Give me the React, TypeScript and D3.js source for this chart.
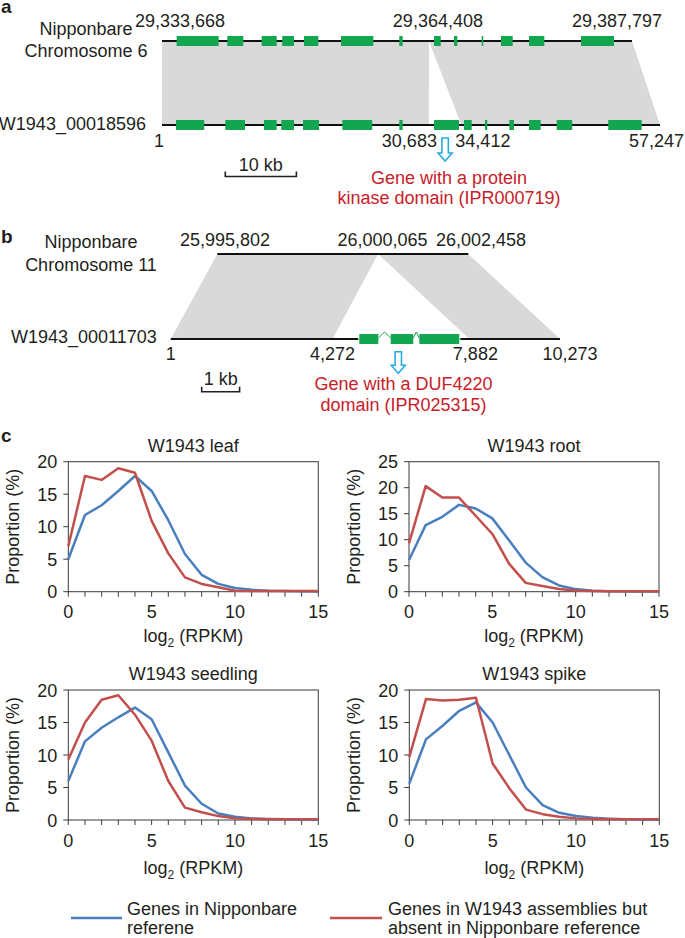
import React from "react";
import * as d3 from "d3";

// ---------- Panel a data ----------
const chr6Start = 29333668;
const chr6Break = 29364408;
const chr6End = 29387797;
const w18596Start = 1;
const w18596GapStart = 30683;
const w18596GapEnd = 34412;
const w18596End = 57247;
// exon positions, kb offset from track start
const chr6ExonsKb: [number, number][] = [
  [1.69, 6.53], [7.52, 9.36], [11.48, 13.21], [13.85, 15.2], [16.35, 18.0],
  [20.62, 24.34], [27.33, 27.72], [31.33, 32.1], [33.63, 34.01], [36.82, 37.0],
  [39.04, 40.39], [42.27, 44.03], [48.26, 52.06],
];
const w18596ExonsKb: [number, number][] = [
  [1.61, 4.86], [7.28, 9.54], [11.72, 13.18], [13.71, 15.17], [16.21, 18.05],
  [20.73, 24.17], [27.28, 27.67], [31.27, 34.14], [34.71, 35.6], [37.13, 37.39],
  [39.92, 40.46], [42.19, 43.53], [45.37, 47.16], [51.3, 55.14],
];
const aTopLabels = ["29,333,668", "29,364,408", "29,387,797"];
const aBotLabels = ["1", "30,683", "34,412", "57,247"];

// ---------- Panel b data ----------
const chr11Start = 25995802;
const chr11Break = 26000065;
const chr11End = 26002458;
const w11703Start = 1;
const w11703GapStart = 4272;
const w11703GapEnd = 7882;
const w11703End = 10273;
const w11703Exons: [number, number][] = [[4977, 5479], [5806, 6402], [6561, 7616]];
const bTopLabels = ["25,995,802", "26,000,065", "26,002,458"];
const bBotLabels = ["1", "4,272", "7,882", "10,273"];

// ---------- Panel c data ----------
const log2Bins = [0, 1, 2, 3, 4, 5, 6, 7, 8, 9, 10, 11, 12, 13, 14, 15];
const leafNip = [5.0, 11.8, 13.3, 15.5, 17.8, 15.5, 11.0, 5.8, 2.6, 1.2, 0.56, 0.3, 0.15, 0.1, 0.05, 0.03];
const leafW = [7.0, 17.8, 17.2, 19.0, 18.3, 10.9, 5.9, 2.2, 1.2, 0.7, 0.15, 0.1, 0.1, 0.1, 0.1, 0.1];
const rootNip = [6.1, 12.8, 14.4, 16.7, 16.0, 14.1, 9.9, 5.6, 2.8, 1.2, 0.5, 0.2, 0.1, 0.05, 0.03, 0.02];
const rootW = [9.3, 20.3, 18.1, 18.1, 14.6, 11.1, 5.4, 1.7, 1.1, 0.5, 0.25, 0.15, 0.1, 0.1, 0.1, 0.1];
const seedNip = [6.0, 12.1, 14.2, 15.8, 17.3, 15.5, 10.4, 5.3, 2.5, 1.0, 0.5, 0.25, 0.15, 0.1, 0.05, 0.03];
const seedW = [9.3, 15.0, 18.5, 19.2, 16.2, 12.2, 6.0, 1.9, 1.2, 0.6, 0.25, 0.15, 0.1, 0.1, 0.1, 0.1];
const spikeNip = [5.6, 12.4, 14.5, 16.8, 18.1, 15.0, 10.0, 5.0, 2.3, 1.1, 0.6, 0.35, 0.2, 0.1, 0.05, 0.03];
const spikeW = [9.7, 18.6, 18.4, 18.5, 18.8, 8.7, 4.9, 1.6, 0.9, 0.5, 0.25, 0.15, 0.1, 0.1, 0.1, 0.1];
const xTickLabels = [0, 5, 10, 15];
const yTicks20 = [0, 5, 10, 15, 20];
const yTicks25 = [0, 5, 10, 15, 20, 25];
const legendNip = ["Genes in Nipponbare", "referene"];
const legendW = ["Genes in W1943 assemblies but", "absent in Nipponbare reference"];

// ---------- styles ----------
const FONT = "'Liberation Sans', Arial, Helvetica, sans-serif";
const TXT = "#231f20";
const GREEN = "#13a650";
const GRAY = "#d9d9d9";
const ARROW = "#29abe2";
const REDTXT = "#c8202a";
const BLUE = "#4a7fbf";
const RED = "#c24f4b";
const AX = "#3a3a3a";

const Arrow = ({ cx, y0, y1 }: { cx: number; y0: number; y1: number }) => {
  const sw = 3.2, hw = 7, hh = 8;
  const d = `M${cx - sw},${y0} L${cx + sw},${y0} L${cx + sw},${y1 - hh} L${cx + hw},${y1 - hh} L${cx},${y1} L${cx - hw},${y1 - hh} L${cx - sw},${y1 - hh} Z`;
  return <path d={d} fill="#fff" stroke={ARROW} strokeWidth={1.6} strokeLinejoin="miter" />;
};

const ScaleBar = ({ x0, x1, y, label, ty }: { x0: number; x1: number; y: number; label: string; ty: number }) => (
  <g>
    <path d={`M${x0},${y - 5} L${x0},${y} L${x1},${y} L${x1},${y - 5}`} fill="none" stroke={TXT} strokeWidth={1.6} />
    <text x={(x0 + x1) / 2} y={ty} textAnchor="middle" fontSize={18} fill={TXT}>{label}</text>
  </g>
);

function PanelA() {
  const xt = d3.scaleLinear().domain([chr6Start, chr6End]).range([162, 632]);
  const xb = d3.scaleLinear().domain([w18596Start, w18596End]).range([162, 660]);
  const yT = 41, yB = 125, eh = 10;
  const topLabelPos = [chr6Start, chr6Break, chr6End];
  const topDx = [18, 9, -15];
  const botLabelPos = [w18596Start, w18596GapStart, w18596GapEnd, w18596End];
  const botDx = [-3, 8, -6, -3.5];
  const botAnchor = ["middle", "end", "start", "middle"];
  const blocks = [
    [chr6Start, chr6Break, w18596Start, w18596GapStart],
    [chr6Break, chr6End, w18596GapEnd, w18596End],
  ];
  const arrowX = xb((w18596GapStart + w18596GapEnd) / 2);
  return (
    <g>
      <text x={1} y={13} fontSize={19} fontWeight="bold" fill={TXT}>a</text>
      {blocks.map((b, i) => (
        <polygon key={i} fill={GRAY}
          points={`${xt(b[0])},${yT} ${xt(b[1])},${yT} ${xb(b[3])},${yB} ${xb(b[2])},${yB}`} />
      ))}
      <line x1={xt(chr6Start)} x2={xt(chr6End)} y1={yT} y2={yT} stroke="#111" strokeWidth={2} />
      <line x1={xb(w18596Start)} x2={xb(w18596End)} y1={yB} y2={yB} stroke="#111" strokeWidth={2} />
      {chr6ExonsKb.map((e, i) => (
        <rect key={i} x={xt(chr6Start + e[0] * 1000)} width={xt(chr6Start + e[1] * 1000) - xt(chr6Start + e[0] * 1000)}
          y={yT - eh / 2} height={eh} fill={GREEN} />
      ))}
      {w18596ExonsKb.map((e, i) => (
        <rect key={i} x={xb(w18596Start + e[0] * 1000)} width={xb(w18596Start + e[1] * 1000) - xb(w18596Start + e[0] * 1000)}
          y={yB - eh / 2} height={eh} fill={GREEN} />
      ))}
      {aTopLabels.map((l, i) => (
        <text key={i} x={xt(topLabelPos[i]) + topDx[i]} y={27} textAnchor="middle" fontSize={18} fill={TXT}>{l}</text>
      ))}
      {aBotLabels.map((l, i) => (
        <text key={i} x={xb(botLabelPos[i]) + botDx[i]} y={147} textAnchor={botAnchor[i] as any} fontSize={18} fill={TXT}>{l}</text>
      ))}
      <text x={86} y={35} textAnchor="middle" fontSize={18} fill={TXT}>Nipponbare</text>
      <text x={86} y={57} textAnchor="middle" fontSize={18} fill={TXT}>Chromosome 6</text>
      <text x={146} y={130} textAnchor="end" fontSize={18} fill={TXT}>W1943_00018596</text>
      <ScaleBar x0={225.3} x1={296.4} y={176.5} label="10 kb" ty={171} />
      <Arrow cx={arrowX} y0={138} y1={161} />
      <text x={449} y={183.5} textAnchor="middle" fontSize={18} fill={REDTXT}>Gene with a protein</text>
      <text x={449} y={203.5} textAnchor="middle" fontSize={18} fill={REDTXT}>kinase domain (IPR000719)</text>
    </g>
  );
}

function PanelB() {
  const xt = d3.scaleLinear().domain([chr11Start, chr11End]).range([217.3, 468.3]);
  const xb = d3.scaleLinear().domain([w11703Start, w11703End]).range([170.7, 560]);
  const yT = 254, yB = 339, eh = 10;
  const topLabelPos = [chr11Start, chr11Break, chr11End];
  const topDx = [7.7, 4.5, 12.7];
  const botLabelPos = [w11703Start, w11703GapStart, w11703GapEnd, w11703End];
  const botDx = [0, 0, 6, 10];
  const blocks = [
    [chr11Start, chr11Break, w11703Start, w11703GapStart],
    [chr11Break, chr11End, w11703GapEnd, w11703End],
  ];
  const exonX = w11703Exons.map((e) => [xb(e[0]), xb(e[1])]);
  const introns = exonX.slice(1).map((e, i) => {
    const a = exonX[i][1], b = e[0];
    return `M${a},${yB - 1} L${(a + b) / 2},${yB - eh / 2 - 2} L${b},${yB - 1}`;
  });
  const arrowX = xb((w11703Exons[0][0] + w11703Exons[w11703Exons.length - 1][1]) / 2) - 11;
  const kb = xb(1001) - xb(1);
  return (
    <g>
      <text x={1} y={243} fontSize={19} fontWeight="bold" fill={TXT}>b</text>
      {blocks.map((b, i) => (
        <polygon key={i} fill={GRAY}
          points={`${xt(b[0])},${yT} ${xt(b[1])},${yT} ${xb(b[3])},${yB} ${xb(b[2])},${yB}`} />
      ))}
      <line x1={xt(chr11Start)} x2={xt(chr11End)} y1={yT} y2={yT} stroke="#111" strokeWidth={2} />
      <line x1={xb(w11703Start)} x2={xb(w11703End)} y1={yB} y2={yB} stroke="#111" strokeWidth={2} />
      <rect x={exonX[0][0] - 1} width={exonX[exonX.length - 1][1] - exonX[0][0] + 2} y={yB - 2} height={4} fill="#fff" />
      {introns.map((d, i) => <path key={i} d={d} fill="none" stroke={GREEN} strokeWidth={1} />)}
      {exonX.map((e, i) => (
        <rect key={i} x={e[0]} width={e[1] - e[0]} y={yB - eh / 2} height={eh} fill={GREEN} />
      ))}
      {bTopLabels.map((l, i) => (
        <text key={i} x={xt(topLabelPos[i]) + topDx[i]} y={245.7} textAnchor="middle" fontSize={18} fill={TXT}>{l}</text>
      ))}
      {bBotLabels.map((l, i) => (
        <text key={i} x={xb(botLabelPos[i]) + botDx[i]} y={360} textAnchor="middle" fontSize={18} fill={TXT}>{l}</text>
      ))}
      <text x={91} y={248} textAnchor="middle" fontSize={18} fill={TXT}>Nipponbare</text>
      <text x={91} y={271} textAnchor="middle" fontSize={18} fill={TXT}>Chromosome 11</text>
      <text x={156.7} y={342.5} textAnchor="end" fontSize={18} fill={TXT}>W1943_00011703</text>
      <ScaleBar x0={201.7} x1={201.7 + kb} y={391.7} label="1 kb" ty={385} />
      <Arrow cx={arrowX} y0={351.7} y1={373.3} />
      <text x={403.5} y={390} textAnchor="middle" fontSize={18} fill={REDTXT}>Gene with a DUF4220</text>
      <text x={403.5} y={411} textAnchor="middle" fontSize={18} fill={REDTXT}>domain (IPR025315)</text>
    </g>
  );
}

type ChartProps = {
  left: number; top: number; title: string; ymax: number; yticks: number[];
  nip: number[]; w: number[]; xlabOff: number;
};

function Chart({ left, top, title, ymax, yticks, nip, w, xlabOff }: ChartProps) {
  const W = 250, H = 130;
  const x = d3.scaleLinear().domain([0, 15]).range([left, left + W]);
  const y = d3.scaleLinear().domain([0, ymax]).range([top + H, top]);
  const line = d3.line<number>().x((_, i) => x(log2Bins[i])).y((d) => y(d));
  const bottom = top + H;
  const cx = left + W / 2;
  return (
    <g>
      <text x={cx} y={top - 10} textAnchor="middle" fontSize={18} fill={TXT}>{title}</text>
      <rect x={left} y={top} width={W} height={H} fill="none" stroke={AX} strokeWidth={1} />
      {log2Bins.map((b) => (
        <line key={b} x1={x(b)} x2={x(b)} y1={bottom} y2={bottom + 5} stroke={AX} strokeWidth={1} />
      ))}
      {yticks.map((t) => (
        <line key={t} x1={left - 5} x2={left} y1={y(t)} y2={y(t)} stroke={AX} strokeWidth={1} />
      ))}
      {xTickLabels.map((t) => (
        <text key={t} x={x(t)} y={bottom + 26.5} textAnchor="middle" fontSize={18} fill={TXT}>{t}</text>
      ))}
      {yticks.map((t) => (
        <text key={t} x={left - 11} y={y(t) + 6.5} textAnchor="end" fontSize={18} fill={TXT}>{t}</text>
      ))}
      <path d={line(nip) || ""} fill="none" stroke={BLUE} strokeWidth={2.5} strokeLinejoin="round" />
      <path d={line(w) || ""} fill="none" stroke={RED} strokeWidth={2.5} strokeLinejoin="round" />
      <text transform={`translate(${left - 49},${top + H / 2}) rotate(-90)`} textAnchor="middle" fontSize={18} fill={TXT}>Proportion (%)</text>
      <text x={cx} y={bottom + xlabOff} textAnchor="middle" fontSize={18} fill={TXT}>
        <tspan>log</tspan>
        <tspan dy={5} fontSize={12}>2</tspan>
        <tspan dy={-5}> (RPKM)</tspan>
      </text>
    </g>
  );
}

function Legend() {
  const items = [
    { color: BLUE, x0: 71, x1: 122, tx: 127, lines: legendNip },
    { color: RED, x0: 330, x1: 382, tx: 388, lines: legendW },
  ];
  return (
    <g>
      {items.map((it, i) => (
        <g key={i}>
          <line x1={it.x0} x2={it.x1} y1={918} y2={918} stroke={it.color} strokeWidth={2.5} />
          {it.lines.map((l, j) => (
            <text key={j} x={it.tx} y={915 + j * 18.5} fontSize={18} fill={TXT}>{l}</text>
          ))}
        </g>
      ))}
    </g>
  );
}

export default function App() {
  return (
    <svg width={685} height={938} viewBox="0 0 685 938"
      style={{ position: "absolute", left: 0, top: 0, background: "#fff" }}
      fontFamily={FONT}>
      <rect x={0} y={0} width={685} height={938} fill="#fff" />
      <PanelA />
      <PanelB />
      <text x={1} y={441.7} fontSize={19} fontWeight="bold" fill={TXT}>c</text>
      <Chart left={68.3} top={461.7} title="W1943 leaf" ymax={20} yticks={yTicks20} nip={leafNip} w={leafW} xlabOff={50} />
      <Chart left={409} top={461.7} title="W1943 root" ymax={25} yticks={yTicks25} nip={rootNip} w={rootW} xlabOff={50} />
      <Chart left={68.3} top={690} title="W1943 seedling" ymax={20} yticks={yTicks20} nip={seedNip} w={seedW} xlabOff={54} />
      <Chart left={409.3} top={690} title="W1943 spike" ymax={20} yticks={yTicks20} nip={spikeNip} w={spikeW} xlabOff={54} />
      <Legend />
    </svg>
  );
}
